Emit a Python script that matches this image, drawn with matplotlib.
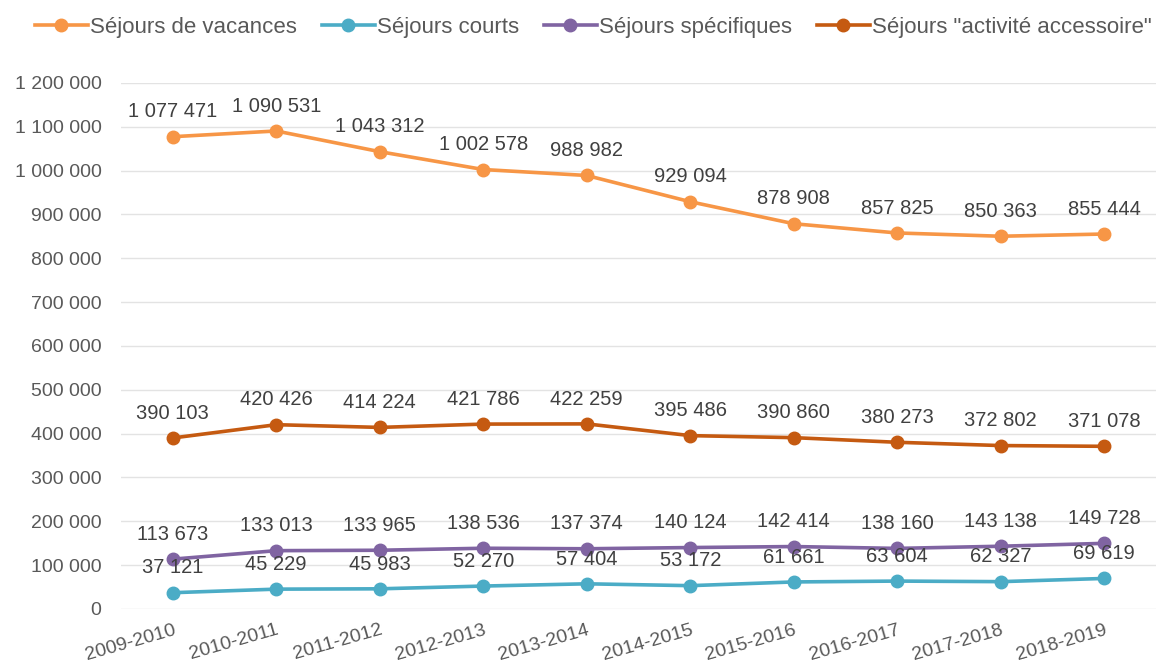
import matplotlib as mpl
mpl.use('Agg')
import matplotlib.pyplot as plt
from matplotlib.ticker import FuncFormatter

plt.rcParams['font.family'] = ['Liberation Sans', 'DejaVu Sans']

seasons = ['2009-2010', '2010-2011', '2011-2012', '2012-2013', '2013-2014',
           '2014-2015', '2015-2016', '2016-2017', '2017-2018', '2018-2019']
vacances = [1077471, 1090531, 1043312, 1002578, 988982, 929094, 878908, 857825, 850363, 855444]
courts = [37121, 45229, 45983, 52270, 57404, 53172, 61661, 63604, 62327, 69619]
specifiques = [113673, 133013, 133965, 138536, 137374, 140124, 142414, 138160, 143138, 149728]
accessoire = [390103, 420426, 414224, 421786, 422259, 395486, 390860, 380273, 372802, 371078]

series = [
    ('Séjours de vacances', vacances, '#F79646'),
    ('Séjours courts', courts, '#4BACC6'),
    ('Séjours spécifiques', specifiques, '#8064A2'),
    ('Séjours "activité accessoire"', accessoire, '#C55A11'),
]


def fr(v, pos=None):
    return f'{int(v):,}'.replace(',', ' ')


fig = plt.figure(figsize=(11.59, 6.72), dpi=100)
ax = fig.add_axes([0.1044, 0.0938, 0.893, 0.7827])
x = list(range(len(seasons)))

for label, vals, color in series:
    ax.plot(x, vals, color=color, lw=2.6, marker='o', ms=9, label=label)
    for xi, v in zip(x, vals):
        ax.annotate(fr(v), (xi, v), xytext=(0, 11), textcoords='offset points',
                    ha='center', va='bottom', fontsize=14.5, color='#404040')

ax.set_xlim(-0.5, len(seasons) - 0.5)
ax.set_ylim(0, 1200000)
ax.set_yticks(range(0, 1200001, 100000))
ax.yaxis.set_major_formatter(FuncFormatter(fr))
ax.set_xticks(x)
ax.set_xticklabels(seasons, rotation=16, ha='right', rotation_mode='anchor')
ax.tick_params(axis='both', length=0, labelsize=14, labelcolor='#595959')
ax.tick_params(axis='y', pad=14)
ax.tick_params(axis='x', pad=9)
ax.grid(axis='y', color='#E3E3E3', lw=1)
ax.set_axisbelow(True)
for s in ax.spines.values():
    s.set_visible(False)

fig.legend(loc='upper center', bbox_to_anchor=(0.512, 1.005), ncol=4, frameon=False,
           fontsize=16, labelcolor='#595959', handlelength=2.4, handletextpad=0.1,
           columnspacing=1.1)

fig.savefig('out.png', dpi=100)
